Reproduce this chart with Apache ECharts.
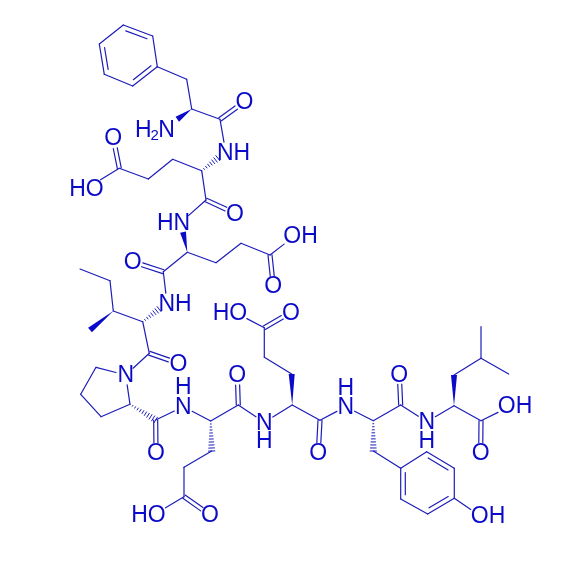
<!DOCTYPE html>
<html><head><meta charset="utf-8">
<script src="https://cdn.jsdelivr.net/npm/echarts@6/dist/echarts.min.js"></script>
<style>html,body{margin:0;padding:0;background:#fff}#c{width:581px;height:581px}</style>
</head><body><div id="c"></div>
<script>
// Atom name: [x, y], in picture units
const atoms = {
  p1:[123.3,25],p2:[152.7,36],p3:[157.3,66.7],p4:[132.7,86],p5:[104.3,74.3],p6:[99.3,44],
  pB:[186.7,79.3],pA:[191.7,109],pC:[220,119.3],pO:[244.3,101.7],pN:[177.3,119.3],
  n1:[225.7,152],e1A:[201.7,170.7],e1B:[172.7,159.3],e1G:[148.3,179],e1D:[119.3,168.3],e1O:[113.3,138.3],e1H:[92,185],
  e1C:[206,200],e1CO:[235,213.3],n2:[181,222.3],
  e2A:[187.3,252.3],e2B:[216,262.7],e2G:[241,243.3],e2D:[270,255],e2H:[292,238],e2O:[273.3,286],
  e2C:[163.3,271.7],e2CO:[132.7,261.7],n3:[167,303],
  iA:[142.7,321.7],iB:[113.3,311],iM:[90,330],iG:[110,280.7],iD:[80,269],
  iC:[149.3,353.3],iO:[178.3,363.3],prN:[125.7,375],
  r1:[96,367.3],r2:[80.7,394.3],r3:[101,416.7],r4:[130,404.3],
  prC:[155.7,420],prO:[156,452.7],n4:[183.3,406.7],
  e3A:[210.7,421],e3C:[238.3,405],e3O:[237.3,375],e3B:[211.7,451],e3G:[184,467.3],e3D:[184,496.7],e3CO:[210,515],e3H:[157,513],
  n5:[264.3,422.3],e4A:[292.2,405],e4B:[291.7,374],e4G:[264.3,357.3],e4D:[264.3,327.7],e4CO:[291,312.3],e4H:[238,314],
  e4C:[320,420.3],e4O:[318.3,452.8],n6:[345.7,406.7],
  yA:[373.3,420.7],yC:[400.7,405],yO:[399.3,374.3],yB:[373.3,451],
  y1:[400.7,468.3],y2:[426.7,451.7],y3:[454.3,468.3],y4:[454.3,498.3],y5:[427.7,514],y6:[400.7,499],yH:[479,515],
  n7:[426.7,421.7],lA:[454,405.7],lB:[454,375],lG:[481,358.3],lD1:[481,326.7],lD2:[508.7,374],
  lC:[481,420.7],lH:[507,408],lO:[480.7,452.7]
};
// Atoms that carry a text label, so bonds stop short of them
const labelled = ['pO','n1','e1H','e1O','e1CO','n2','e2H','e2O','e2CO','n3','iO','prN','prO','n4','e3O','e3CO','e3H','n5','e4CO','e4H','e4O','n6','yO','yH','n7','lH','lO'];
const singleBonds = [
  ['p2','p3'],['p4','p5'],['p6','p1'],['p3','pB'],['pB','pA'],['pA','pC'],['pC','n1'],
  ['e1A','e1B'],['e1B','e1G'],['e1G','e1D'],['e1D','e1H'],['e1A','e1C'],['e1C','n2'],
  ['e2A','e2B'],['e2B','e2G'],['e2G','e2D'],['e2D','e2H'],['e2A','e2C'],['e2C','n3'],
  ['iA','iB'],['iB','iG'],['iG','iD'],['iA','iC'],['iC','prN'],
  ['prN','r1'],['r1','r2'],['r2','r3'],['r3','r4'],['r4','prN'],
  ['prC','n4'],['n4','e3A'],['e3A','e3C'],['e3C','n5'],['e3B','e3G'],['e3G','e3D'],['e3D','e3H'],
  ['n5','e4A'],['e4A','e4C'],['e4C','n6'],['e4B','e4G'],['e4G','e4D'],['e4D','e4H'],
  ['n6','yA'],['yA','yC'],['yC','n7'],['yB','y1'],['y1','y2'],['y3','y4'],['y5','y6'],['y4','yH'],
  ['n7','lA'],['lA','lC'],['lB','lG'],['lG','lD1'],['lG','lD2'],['lC','lH']
];
const doubleBonds = [
  ['pC','pO'],['e1D','e1O'],['e1C','e1CO'],['e2D','e2O'],['e2C','e2CO'],['iC','iO'],['prC','prO'],
  ['e3C','e3O'],['e3D','e3CO'],['e4D','e4CO'],['e4C','e4O'],['yC','yO'],['lC','lO']
];
const ringDoubleBonds = [
  ['p1','p2','p5'],['p3','p4','p1'],['p5','p6','p3'],
  ['y6','y1','y3'],['y2','y3','y5'],['y4','y5','y2']
];
const wedgeBonds = [['pA','pN'],['e2A','n2'],['iB','iM'],['e4A','e4B'],['lA','lB']];
const hashBonds = [['e1A','n1'],['iA','n3'],['r4','prC'],['e3A','e3B'],['yA','yB']];
// Text, x, y, font size
const labelTexts = [
  ['O',244.5,102.7,23],['H',143.3,131,23],['2',154.7,136,15],['N',166.5,131,23],
  ['NH',233.5,153.3,23],['O',113.3,139,23],['HO',86.5,189.5,23],['O',235,214.5,23],['HN',173.5,223.5,23],
  ['OH',300.5,237,23],['O',273.3,287,23],['O',132.7,262.7,23],['NH',175,304.5,23],
  ['O',178.5,364.5,23],['N',125.7,376,23],['O',156,453.7,23],['N',183.3,407.7,23],['H',183.3,388,23],
  ['O',237.3,376,23],['O',210,516,23],['HO',148.5,516,23],['N',264.3,423.3,23],['H',264.3,442,23],
  ['O',291,313.5,23],['HO',230,313.5,23],['O',318.3,453.8,23],['N',345.7,407.7,23],['H',345.7,389,23],
  ['O',399.3,375.3,23],['OH',488,516.5,23],['N',426.7,422.7,23],['H',426.7,441.5,23],
  ['OH',515,407,23],['O',480.7,453.7,23]
];

const INK = '#0a0ac8';
const LINE = {stroke: '#1c1cb8', lineWidth: 1.2, lineCap: 'round'};
const isLab = n => labelled.indexOf(n) >= 0;
const trimEnds = ([a, b]) => {
  let [x1, y1] = atoms[a], [x2, y2] = atoms[b];
  const L = Math.hypot(x2 - x1, y2 - y1), ux = (x2 - x1) / L, uy = (y2 - y1) / L, t = 10;
  if (isLab(a)) { x1 += ux * t; y1 += uy * t; }
  if (isLab(b)) { x2 -= ux * t; y2 -= uy * t; }
  return [x1, y1, x2, y2];
};
const enc = {x: [0, 2], y: [1, 3]};
const ends = api => [api.coord([api.value(0), api.value(1)]), api.coord([api.value(2), api.value(3)])];
const seg = (x1, y1, x2, y2, extra) => ({type: 'line', shape: {x1, y1, x2, y2}, style: Object.assign({}, LINE, extra || {})});

function renderSingle(p, api) { const [a, b] = ends(api); return seg(a[0], a[1], b[0], b[1]); }
function renderDouble(p, api) {
  const [a, b] = ends(api), L = Math.hypot(b[0]-a[0], b[1]-a[1]), nx = -(b[1]-a[1])/L*2, ny = (b[0]-a[0])/L*2;
  return {type: 'group', children: [seg(a[0]+nx,a[1]+ny,b[0]+nx,b[1]+ny), seg(a[0]-nx,a[1]-ny,b[0]-nx,b[1]-ny)]};
}
function renderRing(p, api) {
  const [a, b] = ends(api), far = api.coord([api.value(4), api.value(5)]);
  const L = Math.hypot(b[0]-a[0], b[1]-a[1]);
  const ux = (b[0]-a[0])/L, uy = (b[1]-a[1])/L;
  const sign = ((-uy)*(far[0]-a[0]) + ux*(far[1]-a[1])) > 0 ? 1 : -1;
  const nx = -uy*sign*4.6, ny = ux*sign*4.6, s = L*0.14;
  return {type: 'group', children: [
    seg(a[0],a[1],b[0],b[1]),
    seg(a[0]+nx+ux*s,a[1]+ny+uy*s,b[0]+nx-ux*s,b[1]+ny-uy*s)
  ]};
}
function renderWedge(p, api) {
  const [a, b] = ends(api), L = Math.hypot(b[0]-a[0], b[1]-a[1]), nx = -(b[1]-a[1])/L*3, ny = (b[0]-a[0])/L*3;
  return {type: 'polygon', shape: {points: [[a[0],a[1]],[b[0]+nx,b[1]+ny],[b[0]-nx,b[1]-ny]]}, style: {fill: INK}};
}
function renderHash(p, api) {
  const [a, b] = ends(api), L = Math.hypot(b[0]-a[0], b[1]-a[1]), ux=(b[0]-a[0])/L, uy=(b[1]-a[1])/L;
  const n = Math.max(5, Math.round(L / 3)), kids = [];
  for (let i = 1; i <= n; i++) {
    const f = i / n, w = 3 * f + 0.2, cx = a[0]+ux*L*f, cy = a[1]+uy*L*f;
    kids.push(seg(cx-uy*w, cy+ux*w, cx+uy*w, cy-ux*w, {lineWidth: 1}));
  }
  return {type: 'group', children: kids};
}
function renderText(p, api) {
  const c = api.coord([api.value(0), api.value(1)]), lab = labelTexts[p.dataIndex];
  return {type: 'text', x: c[0], y: c[1], style: {text: lab[0], fontSize: lab[3], fontFamily: 'Liberation Sans, Arial, sans-serif', fill: INK, textAlign: 'center', textVerticalAlign: 'middle'}};
}
const ringData = ringDoubleBonds.map(([a, b, c]) => [...atoms[a], ...atoms[b], ...atoms[c]]);
const mk = (fn, data) => ({type: 'custom', renderItem: fn, data, encode: enc, silent: true, clip: false, animation: false});

const chart = echarts.init(document.getElementById('c'), null, {renderer: 'canvas'});
chart.setOption({
  animation: false, backgroundColor: '#fff', tooltip: {show: false},
  grid: {left: 0, right: 0, top: 0, bottom: 0},
  xAxis: {type: 'value', min: 0, max: 581, show: false},
  yAxis: {type: 'value', min: 0, max: 581, inverse: true, show: false},
  series: [
    mk(renderSingle, singleBonds.map(trimEnds)),
    mk(renderDouble, doubleBonds.map(trimEnds)),
    mk(renderRing, ringData),
    mk(renderWedge, wedgeBonds.map(trimEnds)),
    mk(renderHash, hashBonds.map(trimEnds)),
    {type: 'custom', renderItem: renderText, data: labelTexts.map(l => [l[1], l[2]]), encode: {x: 0, y: 1}, silent: true, clip: false, animation: false}
  ]
});
</script></body></html>
